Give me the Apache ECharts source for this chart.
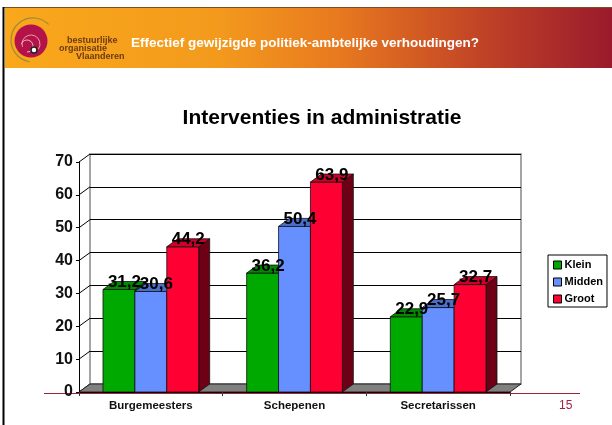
<!DOCTYPE html>
<html>
<head>
<meta charset="utf-8">
<script src="https://cdn.jsdelivr.net/npm/echarts@6/dist/echarts.min.js"></script>
<style>html,body{margin:0;padding:0;background:#fff}#c{width:612px;height:425px}</style>
</head>
<body>
<div id="c"></div>
<script>
const categories = ['Burgemeesters', 'Schepenen', 'Secretarissen'];
const seriesNames = ['Klein', 'Midden', 'Groot'];
const klein = [31.2, 36.2, 22.9];
const midden = [30.6, 50.4, 25.7];
const groot = [44.2, 63.9, 32.7];
const yTicks = [0, 10, 20, 30, 40, 50, 60, 70];

const FONT = '"Liberation Sans", Arial, Helvetica, sans-serif';
const DX = 11, DY = -8;
const faces = [
  { front: '#00a900', top: '#008a00', side: '#005800' },
  { front: '#668fff', top: '#4d6fcc', side: '#33498a' },
  { front: '#ff0033', top: '#cc0029', side: '#6e0015' }
];
const allValues = [klein, midden, groot];

function barSeries(k) {
  return {
    type: 'custom',
    name: seriesNames[k],
    xAxisIndex: 0, yAxisIndex: 0,
    z: 3,
    itemStyle: { color: faces[k].front },
    encode: { x: 0, y: 1 },
    data: allValues[k].map((v, i) => [i, v]),
    renderItem: function (params, api) {
      const idx = api.value(0), val = api.value(1);
      const top = api.coord([idx, val]);
      const base = api.coord([idx, 0]);
      const catW = api.size([1, 0])[0];
      const bw = catW * 0.222;
      const x0 = top[0] + (k - 1.5) * bw;
      const yt = top[1], yb = base[1];
      const stroke = { stroke: '#111', lineWidth: 0.8 };
      return {
        type: 'group',
        children: [
          { type: 'polygon', z2: 1, shape: { points: [[x0 + bw, yt], [x0 + bw + DX, yt + DY], [x0 + bw + DX, yb + DY], [x0 + bw, yb]] },
            style: Object.assign({ fill: faces[k].side }, stroke) },
          { type: 'rect', z2: 2, shape: { x: x0, y: yt, width: bw, height: yb - yt },
            style: Object.assign({ fill: faces[k].front }, stroke) },
          { type: 'polygon', z2: 2, shape: { points: [[x0, yt], [x0 + bw, yt], [x0 + bw + DX, yt + DY], [x0 + DX, yt + DY]] },
            style: Object.assign({ fill: faces[k].top }, stroke) },
          { type: 'text', z2: 100, x: x0 + bw / 2 + DX / 2, y: yt + DY + 1,
            style: { text: String(val).replace('.', ','), fill: '#000', font: 'bold 17px ' + FONT, align: 'center', verticalAlign: 'middle' } }
        ]
      };
    }
  };
}

const option = {
  backgroundColor: '#ffffff',
  animation: false,
  title: {
    text: 'Interventies in administratie',
    left: 317, top: 103, textAlign: 'center',
    textStyle: { fontFamily: FONT, fontWeight: 'bold', fontSize: 21, color: '#000' }
  },
  legend: {
    orient: 'vertical',
    left: 548, top: 255,
    padding: [4, 4, 2, 5],
    itemWidth: 8, itemHeight: 8, itemGap: 5,
    borderColor: '#000', borderWidth: 1,
    backgroundColor: '#fff',
    icon: 'rect',
    textStyle: { fontFamily: FONT, fontWeight: 'bold', fontSize: 11, color: '#000', padding: [0, 0, 0, -2], lineHeight: 12 },
    data: seriesNames.map((n, k) => ({ name: n, itemStyle: { color: faces[k].front, borderColor: '#000', borderWidth: 1 } }))
  },
  grid: [
    { left: 79, right: 102, top: 162, bottom: 33 },
    { left: 90, right: 91, top: 154, bottom: 41, show: true, borderColor: '#888', borderWidth: 1.5, backgroundColor: 'transparent' }
  ],
  xAxis: [
    { type: 'category', gridIndex: 0, data: categories,
      axisLine: { show: true, lineStyle: { color: '#000', width: 1 } },
      axisTick: { show: true, length: 4, lineStyle: { color: '#333' } },
      axisLabel: { fontFamily: FONT, fontWeight: 'bold', fontSize: 11.5, color: '#111', margin: 8 },
      z: 4 },
    { type: 'category', gridIndex: 1, data: categories, show: false }
  ],
  yAxis: [
    { type: 'value', gridIndex: 0, min: 0, max: 70, interval: 10,
      axisLine: { show: true, lineStyle: { color: '#000', width: 1 } },
      axisTick: { show: true, length: 3, lineStyle: { color: '#000' } },
      splitLine: { show: false },
      axisLabel: { fontFamily: FONT, fontWeight: 'bold', fontSize: 16, color: '#111', margin: 6 },
      z: 4 },
    { type: 'value', gridIndex: 1, min: 0, max: 70, interval: 10,
      axisLine: { show: false }, axisTick: { show: false }, axisLabel: { show: false },
      splitLine: { show: true, lineStyle: { color: '#000', width: 1 } } }
  ],
  series: [
    {
      type: 'custom', name: 'sidewall', xAxisIndex: 0, yAxisIndex: 0, z: 1,
      data: yTicks.map(v => [0, v]), encode: { x: 0, y: 1 }, silent: true,
      renderItem: function (params, api) {
        const p = api.coord([0, api.value(1)]);
        const x = params.coordSys.x;
        return { type: 'line', shape: { x1: x, y1: p[1], x2: x + DX, y2: p[1] + DY }, style: { stroke: '#000', lineWidth: 1 } };
      }
    },
    {
      type: 'custom', name: 'floor', xAxisIndex: 0, yAxisIndex: 0, z: 2,
      data: [[0, 0]], encode: { x: 0, y: 1 }, silent: true,
      renderItem: function (params, api) {
        const cs = params.coordSys;
        const y = api.coord([0, 0])[1];
        const x1 = cs.x, x2 = cs.x + cs.width;
        return { type: 'polygon', shape: { points: [[x1, y], [x2, y], [x2 + DX, y + DY], [x1 + DX, y + DY]] },
          style: { fill: '#808080', stroke: '#222', lineWidth: 1 } };
      }
    },
    barSeries(0), barSeries(1), barSeries(2)
  ],
  graphic: [
    { type: 'rect', z: -10, shape: { x: 5, y: 8, width: 607, height: 60 },
      style: { fill: { type: 'linear', x: 0, y: 0, x2: 1, y2: 0,
        colorStops: [{ offset: 0, color: '#f9a81b' }, { offset: 0.35, color: '#f39a1d' }, { offset: 0.55, color: '#e8791f' }, { offset: 0.78, color: '#c24426' }, { offset: 1, color: '#9a1a2c' }] } } },
    { type: 'line', z: -9, shape: { x1: 4, y1: 7.5, x2: 612, y2: 7.5 }, style: { stroke: '#7a5020', lineWidth: 1 } },
    { type: 'line', z: -9, shape: { x1: 3.5, y1: 7, x2: 3.5, y2: 425 }, style: { stroke: '#000', lineWidth: 2 } },
    { type: 'arc', z: -8, shape: { cx: 33, cy: 40, r: 22, startAngle: Math.PI * 0.55, endAngle: Math.PI * 1.75 }, style: { stroke: '#9a8a3a', lineWidth: 1.2, fill: null } },
    { type: 'circle', z: -8, shape: { cx: 31, cy: 41, r: 16.5 }, style: { fill: '#b3124a' } },
    { type: 'arc', z: -7, shape: { cx: 31, cy: 44, r: 9, startAngle: Math.PI * 0.9, endAngle: Math.PI * 2.2 }, style: { stroke: '#e9a0a8', lineWidth: 1, fill: null } },
    { type: 'arc', z: -7, shape: { cx: 27, cy: 46, r: 6, startAngle: Math.PI * 1.1, endAngle: Math.PI * 2.5 }, style: { stroke: '#f0c0b0', lineWidth: 1, fill: null } },
    { type: 'circle', z: -7, shape: { cx: 34, cy: 50, r: 3 }, style: { fill: '#fff', stroke: '#222', lineWidth: 1.5 } },
    { type: 'text', z: -7, x: 67, y: 41, style: { text: 'bestuurlijke', font: 'bold 9px ' + FONT, fill: '#6b3a12', verticalAlign: 'middle' } },
    { type: 'text', z: -7, x: 59, y: 48.5, style: { text: 'organisatie', font: 'bold 9px ' + FONT, fill: '#6b3a12', verticalAlign: 'middle' } },
    { type: 'text', z: -7, x: 76, y: 56.5, style: { text: 'Vlaanderen', font: 'bold 9px ' + FONT, fill: '#6b3a12', verticalAlign: 'middle' } },
    { type: 'text', z: -7, x: 131, y: 43, style: { text: 'Effectief gewijzigde politiek-ambtelijke verhoudingen?', font: 'bold 13.5px ' + FONT, fill: '#ffffff', verticalAlign: 'middle' } },
    { type: 'line', z: -5, shape: { x1: 44, y1: 393.5, x2: 580, y2: 393.5 }, style: { stroke: '#a3213e', lineWidth: 1 } },
    { type: 'text', x: 559, y: 406, style: { text: '15', font: '12px ' + FONT, fill: '#a3213e', verticalAlign: 'middle' } }
  ]
};

const chart = echarts.init(document.getElementById('c'), null, { renderer: 'canvas' });
chart.setOption(option);
</script>
</body>
</html>
